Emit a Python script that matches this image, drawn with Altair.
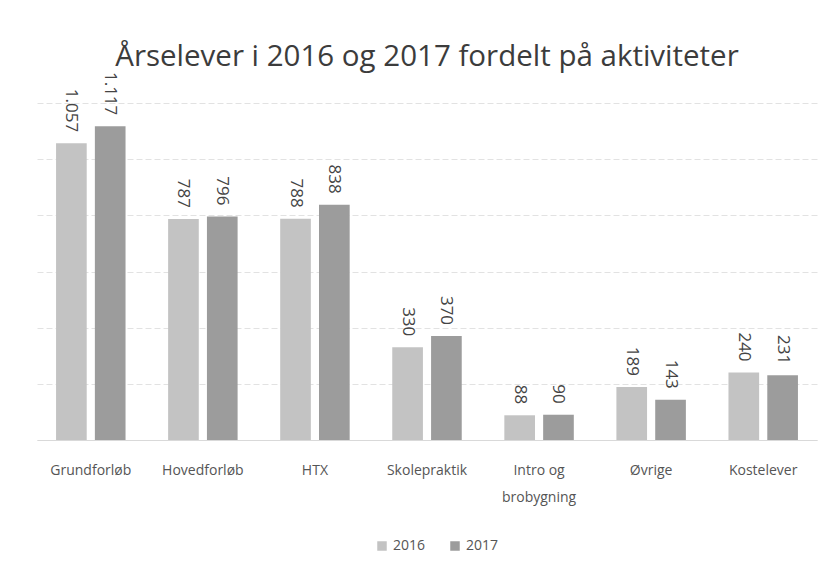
import altair as alt
import pandas as pd

categories = ["Grundforløb", "Hovedforløb", "HTX", "Skolepraktik", "Intro og brobygning", "Øvrige", "Kostelever"]
years = ["2016", "2017"]
values_2016 = [1057, 787, 788, 330, 88, 189, 240]
values_2017 = [1117, 796, 838, 370, 90, 143, 231]

def fmt(v):
    return f"{v:,}".replace(",", ".")

rows = []
for c, a, b in zip(categories, values_2016, values_2017):
    rows.append({"cat": c, "year": "2016", "value": a, "label": fmt(a)})
    rows.append({"cat": c, "year": "2017", "value": b, "label": fmt(b)})
df = pd.DataFrame(rows)

FONT = "Open Sans"

x = alt.X("cat:N", sort=categories, title=None,
          scale=alt.Scale(paddingInner=0.38, paddingOuter=0.17),
          axis=alt.Axis(labelAngle=0, ticks=False, domain=True, domainColor="#d9d9d9",
                        labelFontSize=14, labelColor="#555555", labelFont=FONT,
                        labelPadding=23, labelLimit=200,
                        labelExpr="datum.value == 'Intro og brobygning' ? ['Intro og', 'brobygning'] : datum.value",
                        labelLineHeight=27))
y = alt.Y("value:Q", title=None, scale=alt.Scale(domain=[0, 1200]),
          axis=alt.Axis(values=[0, 200, 400, 600, 800, 1000, 1200], labels=False, ticks=False,
                        domain=False, grid=True, gridColor="#e2e2e2", gridDash=[6, 3]))
color = alt.Color("year:N", title=None,
                  scale=alt.Scale(domain=years, range=["#c3c3c3", "#9c9c9c"]),
                  legend=alt.Legend(orient="none", legendX=338, legendY=436, direction="horizontal",
                                    symbolType="square", symbolSize=90, labelFontSize=14,
                                    labelColor="#555555", labelFont=FONT, columnPadding=22,
                                    symbolStrokeWidth=0))

base = alt.Chart(df).encode(
    x=x,
    y=y,
    xOffset=alt.XOffset("year:N", scale=alt.Scale(paddingInner=0.21)),
)

bars = base.mark_bar().encode(color=color)
text = base.mark_text(angle=90, align="right", baseline="middle", dx=-11, fontSize=17,
                      color="#444444", font=FONT).encode(text="label:N")

chart = (bars + text).properties(
    width=780, height=337,
    background="white",
    title=alt.Title("Årselever i 2016 og 2017 fordelt på aktiviteter", fontSize=29.5,
                    font=FONT, fontWeight="normal", color="#3c3c3c", offset=-1, anchor="middle"),
    padding={"left": 37, "top": 103, "right": 19, "bottom": 133},
    autosize=alt.AutoSizeParams(type="none"),
).configure_view(strokeWidth=0, stroke="transparent")

chart.save("out.html", embed_options={"renderer": "svg", "actions": False})
